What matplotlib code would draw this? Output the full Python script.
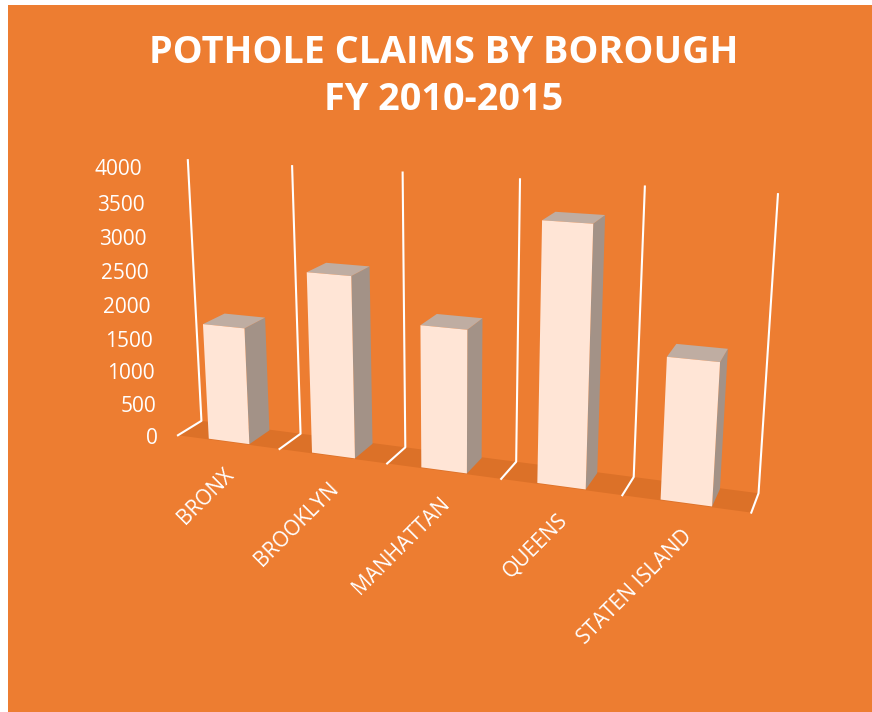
import numpy as np
import matplotlib
matplotlib.use('Agg')
import matplotlib.pyplot as plt
from mpl_toolkits.mplot3d import proj3d

boroughs = ['BRONX', 'BROOKLYN', 'MANHATTAN', 'QUEENS', 'STATEN ISLAND']
claims = [1750, 2650, 2050, 3600, 1950]
y_ticks = [0, 500, 1000, 1500, 2000, 2500, 3000, 3500, 4000]

orange = '#ED7D31'
plt.rcParams['font.family'] = ['Open Sans', 'DejaVu Sans']

fig = plt.figure(figsize=(8.72, 7.12), dpi=100, facecolor='white')
bg = fig.add_axes([8/872, 0, 864/872, 1 - 5/712])
bg.set_facecolor(orange)
bg.set_xticks([])
bg.set_yticks([])
for s in bg.spines.values():
    s.set_visible(False)

# camera worked out from the vanishing points of the reference
ax = fig.add_axes([119/872, 54/712, 648/872, 648/712], projection='3d', computed_zorder=False)
ax.patch.set_alpha(0)
ax.set_axis_off()
ax.set_proj_type('persp', focal_length=0.385)
ax.view_init(elev=15.4, azim=-70)
n = len(boroughs)
ax.set_box_aspect((615, 50, 293), zoom=1.024)
ax.set_xlim(0, n)
ax.set_ylim(0, 1)
ax.set_zlim(0, 4000)


def face(xs, ys, zs, color, z):
    ax.plot_surface(np.array(xs), np.array(ys), np.array(zs), color=color, shade=False,
                    zorder=z, linewidth=0, antialiased=True, clip_on=False)


# floor
face([[0, n], [0, n]], [[0, 0], [1, 1]], [[0, 0], [0, 0]], '#DC7128', 1)

# gridlines: short tick along the floor, then up the back wall
for i in range(n + 1):
    ax.plot([i, i, i], [0, 1, 1], [0, 0, 4000], color='white', lw=1.5, zorder=2, clip_on=False)

# bars
for i, v in enumerate(claims):
    x0, x1 = i + 0.3, i + 0.7
    y0, y1 = 0.04, 0.96
    face([[x1, x1], [x1, x1]], [[y0, y1], [y0, y1]], [[0, 0], [v, v]], '#A39287', 3 + i)
    face([[x0, x1], [x0, x1]], [[y0, y0], [y1, y1]], [[v, v], [v, v]], '#BFADA2', 3 + i)
    face([[x0, x1], [x0, x1]], [[y0, y0], [y0, y0]], [[0, 0], [v, v]], '#FFE5D6', 3 + i)


def to_2d(x, y, z):
    px, py, _ = proj3d.proj_transform(x, y, z, ax.get_proj())
    return px, py


for t in y_ticks:
    ax.annotate(str(t), xy=to_2d(0, 0, t), xytext=(-20, -3), textcoords='offset pixels',
                color='white', fontsize=15, ha='right', va='center', annotation_clip=False)
for i, name in enumerate(boroughs):
    ax.annotate(name, xy=to_2d(i + 0.5, 0, 0), xytext=(3, -30), textcoords='offset pixels',
                color='white', fontsize=15, rotation=45, ha='right', va='center',
                rotation_mode='anchor', annotation_clip=False)

fig.text(0.509, 0.926, 'POTHOLE CLAIMS BY BOROUGH', color='white', fontsize=27.2,
         fontweight='bold', ha='center', va='center')
fig.text(0.509, 0.859, 'FY 2010-2015', color='white', fontsize=27.2,
         fontweight='bold', ha='center', va='center')

fig.savefig('out.png', dpi=100, facecolor='white')
